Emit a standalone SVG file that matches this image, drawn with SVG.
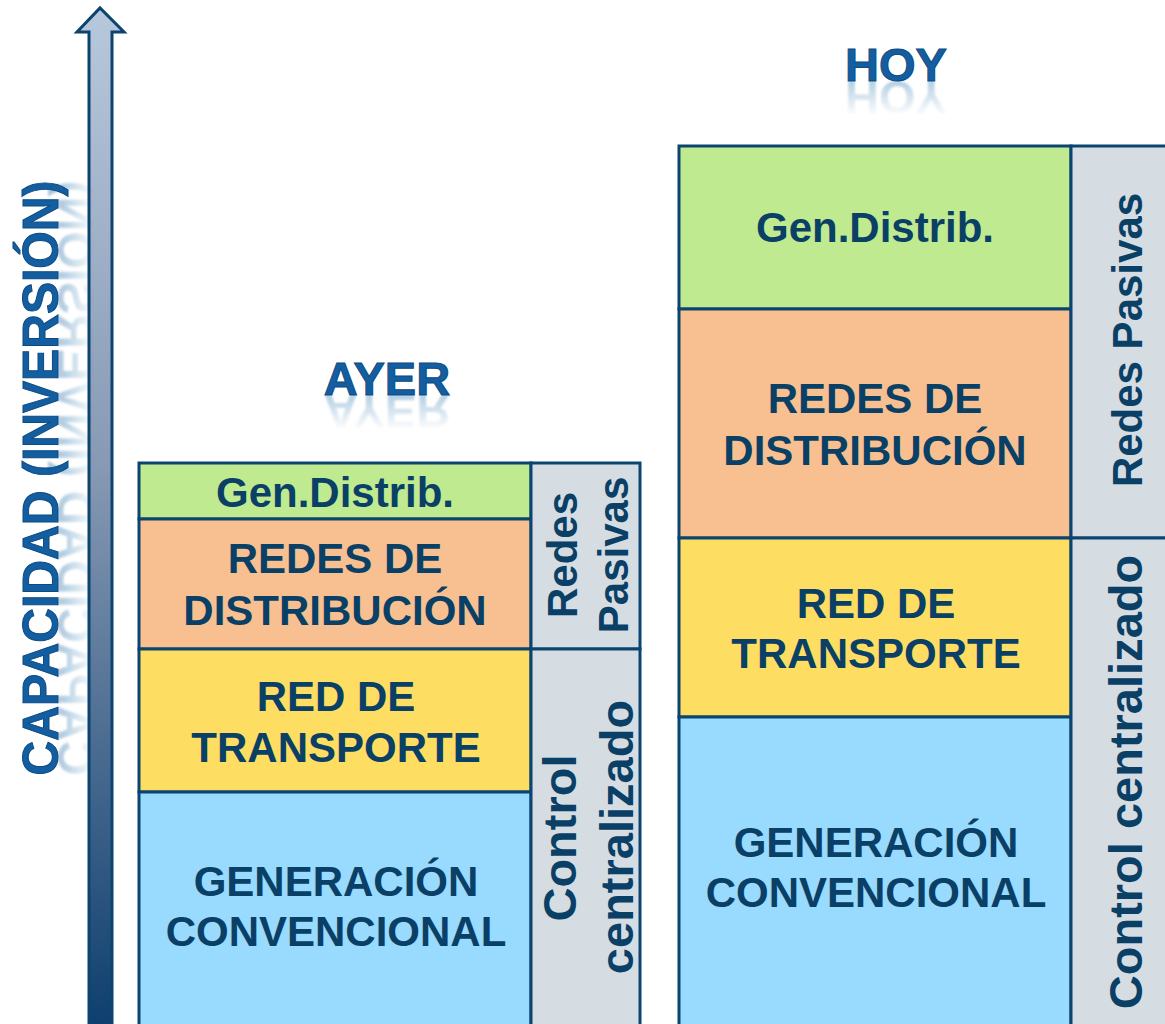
<svg xmlns="http://www.w3.org/2000/svg" width="1165" height="1024" viewBox="0 0 1165 1024">
<defs>
<style>
.cell{stroke:#0c4470;stroke-width:3}
.g{fill:#c0ea90}.o{fill:#f8c090}.y{fill:#fede62}.b{fill:#99daff}.s{fill:#d5dde3}
.t{font-family:"Liberation Sans",Arial,sans-serif;font-weight:bold;font-size:42px;fill:#0a4066;text-anchor:middle}
.c{font-size:47px}
.h{font-family:"Liberation Sans",Arial,sans-serif;font-weight:bold;font-size:47px;fill:#135ea0;text-anchor:middle;stroke:#0d4a80;stroke-width:1}
</style>
<linearGradient id="shaft" x1="0" y1="0" x2="0" y2="1">
<stop offset="0" stop-color="#b8c8dc"/>
<stop offset="0.45" stop-color="#8799b4"/>
<stop offset="1" stop-color="#0e3f6e"/>
</linearGradient>
<linearGradient id="refAyer" gradientUnits="userSpaceOnUse" x1="0" y1="360" x2="0" y2="395">
<stop offset="0" stop-color="#135ea0" stop-opacity="0"/>
<stop offset="1" stop-color="#135ea0" stop-opacity="0.3"/>
</linearGradient>
<linearGradient id="refHoy" gradientUnits="userSpaceOnUse" x1="0" y1="46" x2="0" y2="81">
<stop offset="0" stop-color="#135ea0" stop-opacity="0"/>
<stop offset="1" stop-color="#135ea0" stop-opacity="0.3"/>
</linearGradient>
<linearGradient id="refCap" gradientUnits="userSpaceOnUse" x1="0" y1="-36" x2="0" y2="0">
<stop offset="0" stop-color="#135ea0" stop-opacity="0"/>
<stop offset="1" stop-color="#135ea0" stop-opacity="0.35"/>
</linearGradient>
<filter id="blur" x="-10%" y="-10%" width="120%" height="120%"><feGaussianBlur stdDeviation="1.2"/></filter>
</defs>

<g id="connectors">
<path id="axis-arrow" d="M89,1026 L89,32 L77,32 L100,8 L124,32 L112,32 L112,1026 Z" fill="url(#shaft)" stroke="#0c4470" stroke-width="3" stroke-linejoin="miter"/>
</g>

<g id="axis-label">
<text class="h" transform="translate(58,478) rotate(-90)" x="0" y="0" textLength="595" lengthAdjust="spacingAndGlyphs" style="font-size:50px">CAPACIDAD (INVERSIÓN)</text>
<text class="h" transform="translate(58,478) rotate(-90) scale(1,-1)" x="0" y="0" textLength="595" lengthAdjust="spacingAndGlyphs" style="font-size:50px;fill:url(#refCap);stroke:none" filter="url(#blur)">CAPACIDAD (INVERSIÓN)</text>
</g>

<g id="title-ayer">
<text class="h" x="387" y="395">AYER</text>
<text class="h" x="387" y="395" transform="translate(0,790) scale(1,-1)" style="fill:url(#refAyer);stroke:none" filter="url(#blur)">AYER</text>
</g>

<g id="title-hoy">
<text class="h" x="896" y="81">HOY</text>
<text class="h" x="896" y="81" transform="translate(0,162) scale(1,-1)" style="fill:url(#refHoy);stroke:none" filter="url(#blur)">HOY</text>
</g>

<!-- AYER stack -->
<g id="ayer-gen-distrib">
<rect class="cell g" x="139" y="463" width="392" height="56"/>
<text class="t" x="335" y="507">Gen.Distrib.</text>
</g>
<g id="ayer-redes-distribucion">
<rect class="cell o" x="139" y="519" width="392" height="130"/>
<text class="t" x="335" y="573">REDES DE</text>
<text class="t" x="335" y="625">DISTRIBUCIÓN</text>
</g>
<g id="ayer-red-transporte">
<rect class="cell y" x="139" y="649" width="392" height="143"/>
<text class="t" x="336" y="711">RED DE</text>
<text class="t" x="336" y="762">TRANSPORTE</text>
</g>
<g id="ayer-generacion">
<rect class="cell b" x="139" y="792" width="392" height="240"/>
<text class="t" x="336" y="896">GENERACIÓN</text>
<text class="t" x="336" y="946">CONVENCIONAL</text>
</g>
<g id="ayer-redes-pasivas">
<rect class="cell s" x="531" y="463" width="109" height="186"/>
<text class="t" transform="translate(577,555) rotate(-90)" x="0" y="0">Redes</text>
<text class="t" transform="translate(628,555) rotate(-90)" x="0" y="0">Pasivas</text>
</g>
<g id="ayer-control">
<rect class="cell s" x="531" y="649" width="109" height="383"/>
<text class="t c" transform="translate(576,838) rotate(-90)" x="0" y="0">Control</text>
<text class="t c" transform="translate(633,837) rotate(-90)" x="0" y="0">centralizado</text>
</g>

<!-- HOY stack -->
<g id="hoy-gen-distrib">
<rect class="cell g" x="679" y="146" width="392" height="163"/>
<text class="t" x="875" y="242">Gen.Distrib.</text>
</g>
<g id="hoy-redes-distribucion">
<rect class="cell o" x="679" y="309" width="392" height="229"/>
<text class="t" x="875" y="413">REDES DE</text>
<text class="t" x="875" y="465">DISTRIBUCIÓN</text>
</g>
<g id="hoy-red-transporte">
<rect class="cell y" x="679" y="538" width="392" height="179"/>
<text class="t" x="876" y="618">RED DE</text>
<text class="t" x="876" y="668">TRANSPORTE</text>
</g>
<g id="hoy-generacion">
<rect class="cell b" x="679" y="717" width="392" height="315"/>
<text class="t" x="876" y="857">GENERACIÓN</text>
<text class="t" x="876" y="907">CONVENCIONAL</text>
</g>
<g id="hoy-redes-pasivas">
<rect class="cell s" x="1071" y="146" width="110" height="392"/>
<text class="t" transform="translate(1142,340) rotate(-90)" x="0" y="0">Redes Pasivas</text>
</g>
<g id="hoy-control">
<rect class="cell s" x="1071" y="538" width="110" height="494"/>
<text class="t c" transform="translate(1142,782) rotate(-90)" x="0" y="0">Control centralizado</text>
</g>
</svg>
